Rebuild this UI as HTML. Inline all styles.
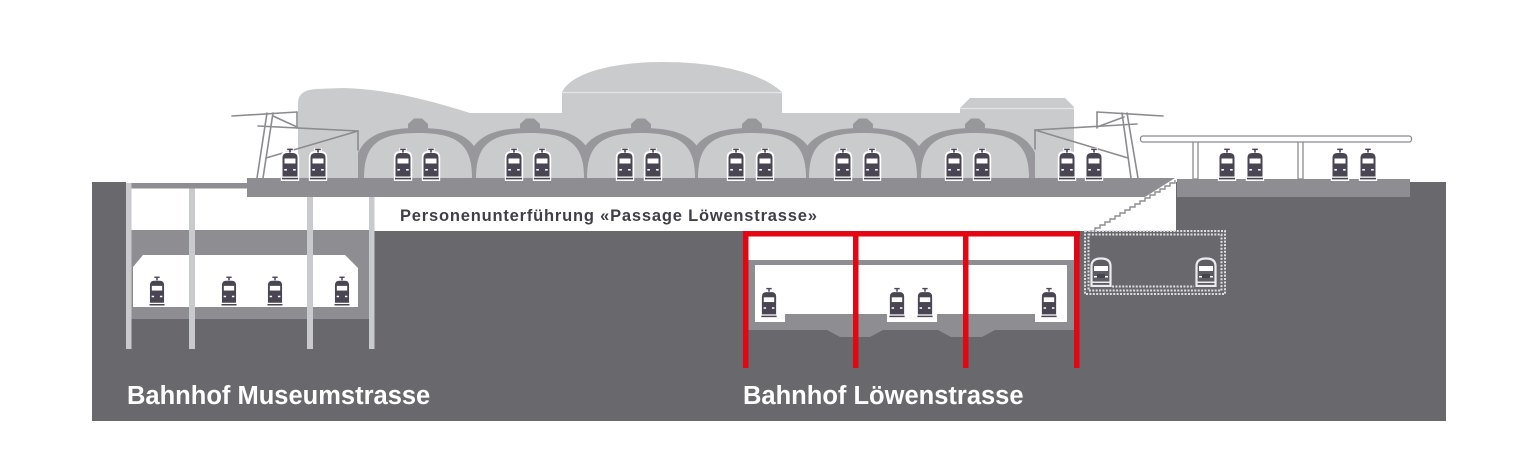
<!DOCTYPE html>
<html>
<head>
<meta charset="utf-8">
<style>
  html,body{margin:0;padding:0;background:#fff;}
  body{width:1536px;height:459px;overflow:hidden;}
  svg{display:block;}
  .lbl{font-family:"Liberation Sans",Arial,sans-serif;font-weight:bold;}
</style>
</head>
<body>
<svg width="1536" height="459" viewBox="0 0 1536 459" xmlns="http://www.w3.org/2000/svg">
  <defs>
    <symbol id="tr" viewBox="0 0 20 33">
      <path d="M0.8,33 V9.5 Q0.8,3.2 6.5,3.2 H13.5 Q19.2,3.2 19.2,9.5 V33 Z" fill="#fff"/>
      <rect x="6.3" y="0" width="7.4" height="2.8" fill="#fff"/>
      <rect x="7.2" y="0.6" width="5.6" height="1.5" fill="#4a4553"/>
      <rect x="9.2" y="2" width="1.6" height="2.6" fill="#4a4553"/>
      <path d="M2.5,28.5 V10 Q2.5,5 7,5 H13 Q17.5,5 17.5,10 V28.5 Z" fill="#4a4553"/>
      <rect x="4.5" y="10.5" width="11" height="5" fill="#fff"/>
      <rect x="4.3" y="21" width="2.6" height="1.6" fill="#fff"/>
      <rect x="13.1" y="21" width="2.6" height="1.6" fill="#fff"/>
      <rect x="2" y="29.8" width="16" height="1.6" fill="#4a4553"/>
    </symbol>
    <symbol id="tro" viewBox="0 0 22 30">
      <path d="M1.5,29 V9 Q1.5,1.5 11,1.5 Q20.5,1.5 20.5,9 V29 Z" fill="#5e5d63" stroke="#ececee" stroke-width="2.2"/>
      <rect x="4" y="9" width="14" height="5" fill="#fff"/>
      <rect x="4" y="19" width="3" height="1.5" fill="#fff"/>
      <rect x="15" y="19" width="3" height="1.5" fill="#fff"/>
      <rect x="7" y="17" width="8" height="4" fill="#45434b"/>
      <rect x="2.5" y="24.5" width="17" height="1.5" fill="#ececee"/>
    </symbol>
    <clipPath id="archclip"><rect x="358" y="100" width="677" height="78"/></clipPath>
  </defs>

  <!-- ===== BUILDING (light gray) ===== -->
  <path d="M298,180 L298,103 Q298,90 316,89 L343,88 C385,89 425,99 470,113 L562,113 L562,92
           C572,72 615,62 663,62 C715,62 760,72 782,92 L782,113 L960,113 L960,108 L970,98 L1065,98 L1074,107 L1074,180 Z"
        fill="#cacbcd"/>
  <line x1="562" y1="92.5" x2="782" y2="92.5" stroke="#e6e6e8" stroke-width="1.2"/>
  <line x1="960" y1="108.5" x2="1074" y2="108.5" stroke="#e6e6e8" stroke-width="1.2"/>

  <!-- ===== ARCHES ===== -->
  <g clip-path="url(#archclip)" fill="#98979c">
    <path d="M356,178 L356,158 C363,138 378,128 418,128 C458,128 473,138 480,158 L480,178 Z"/>
    <path d="M468,178 L468,158 C475,138 490,128 530,128 C570,128 585,138 592,158 L592,178 Z"/>
    <path d="M579,178 L579,158 C586,138 601,128 641,128 C681,128 696,138 703,158 L703,178 Z"/>
    <path d="M690,178 L690,158 C697,138 712,128 752,128 C792,128 807,138 814,158 L814,178 Z"/>
    <path d="M801,178 L801,158 C808,138 823,128 863,128 C903,128 918,138 925,158 L925,178 Z"/>
    <path d="M913,178 L913,158 C920,138 935,128 975,128 C1015,128 1030,138 1037,158 L1037,178 Z"/>
  </g>
  <g fill="#cacbcd">
    <path d="M364,178 C364,145 378,133 418,133 C458,133 472,145 472,178 Z"/>
    <path d="M476,178 C476,145 490,133 530,133 C570,133 584,145 584,178 Z"/>
    <path d="M587,178 C587,145 601,133 641,133 C681,133 695,145 695,178 Z"/>
    <path d="M698,178 C698,145 712,133 752,133 C792,133 806,145 806,178 Z"/>
    <path d="M809,178 C809,145 823,133 863,133 C903,133 917,145 917,178 Z"/>
    <path d="M921,178 C921,145 935,133 975,133 C1015,133 1029,145 1029,178 Z"/>
  </g>
  <g fill="#98979c">
    <polygon points="408,129 408,124 414,118.5 422,118.5 428,124 428,129"/>
    <polygon points="520,129 520,124 526,118.5 534,118.5 540,124 540,129"/>
    <polygon points="631,129 631,124 637,118.5 645,118.5 651,124 651,129"/>
    <polygon points="742,129 742,124 748,118.5 756,118.5 762,124 762,129"/>
    <polygon points="853,129 853,124 859,118.5 867,118.5 873,124 873,129"/>
    <polygon points="965,129 965,124 971,118.5 979,118.5 985,124 985,129"/>
  </g>

  <!-- ===== GROUND ===== -->
  <rect x="92" y="182" width="1354" height="239" fill="#69686d"/>
  <rect x="247" y="181" width="929" height="50" fill="#fff"/>
  <rect x="131" y="188" width="120" height="42" fill="#fff"/>
  <rect x="126" y="181" width="122" height="2" fill="#fff"/>
  <rect x="126" y="183" width="122" height="5.5" fill="#8e8d92"/>
  <polygon points="247,178 1175,178 1145,197 247,197" fill="#8e8d92"/>
  <polyline fill="none" stroke="#8e8d92" stroke-width="1.4"
    points="1175,180 1175,183 1170,183 1170,186 1165,186 1165,189 1160,189 1160,192 1155,192 1155,195 1150,195 1150,198 1145,198 1145,201 1140,201 1140,204 1135,204 1135,207 1130,207 1130,210 1125,210 1125,213 1120,213 1120,216 1115,216 1115,219 1110,219 1110,222 1105,222 1105,225 1100,225 1100,228 1095,228 1095,231 1090,231"/>
  <rect x="1177" y="179" width="233" height="18" fill="#8e8d92"/>
  <rect x="1410" y="182" width="36" height="15" fill="#69686d"/>

  <!-- ===== MUSEUMSTRASSE STATION ===== -->
  <rect x="131" y="230" width="238" height="89" fill="#8e8d92"/>
  <polygon points="143,255 345,255 358,268 358,307 133,307 133,267" fill="#fff"/>
  <g fill="#c9cacd">
    <rect x="126" y="183" width="5.5" height="166"/>
    <rect x="189" y="188.5" width="6" height="160.5"/>
    <rect x="307" y="197" width="6" height="152"/>
    <rect x="369" y="197" width="5.5" height="152"/>
  </g>
  <use href="#tr" x="147.5" y="276" width="19" height="31"/>
  <use href="#tr" x="219.5" y="276" width="19" height="31"/>
  <use href="#tr" x="265.5" y="276" width="19" height="31"/>
  <use href="#tr" x="332.5" y="276" width="19" height="31"/>

  <!-- ===== LÖWENSTRASSE STATION ===== -->
  <rect x="748" y="236" width="326" height="24" fill="#fff"/>
  <path d="M748,260 L1074,260 L1074,330 L995,330 L982,337 L951,337 L938,330 L883,330 L870,337 L840,337 L827,330 L748,330 Z" fill="#8e8d92"/>
  <path d="M755,265 L1067,265 L1067,322 L1035,322 L1035,314 L937,314 L937,322 L887,322 L887,314 L785,314 L785,322 L755,322 Z" fill="#fff"/>
  <use href="#tr" x="759.5" y="287" width="19" height="32"/>
  <use href="#tr" x="887.5" y="287" width="19" height="32"/>
  <use href="#tr" x="915.5" y="287" width="19" height="32"/>
  <use href="#tr" x="1039.5" y="287" width="19" height="32"/>
  <g fill="#e30613">
    <rect x="743" y="231" width="337" height="5.5"/>
    <rect x="743" y="231" width="5.5" height="137"/>
    <rect x="853" y="231" width="5.5" height="137"/>
    <rect x="963" y="231" width="5.5" height="137"/>
    <rect x="1074" y="231" width="5.5" height="137"/>
  </g>

  <!-- ===== DOTTED FUTURE TUNNEL ===== -->
  <g fill="none" stroke="#dedee1" stroke-width="2" stroke-dasharray="2 1.4">
    <rect x="1085" y="231" width="140" height="63"/>
    <rect x="1088.5" y="234.5" width="133" height="56"/>
    <line x1="1112" y1="286.5" x2="1194" y2="286.5"/>
  </g>
  <use href="#tro" x="1090" y="257" width="22" height="30"/>
  <use href="#tro" x="1195" y="257" width="22" height="30"/>

  <!-- ===== CATENARY ===== -->
  <g stroke="#8c8b90" stroke-width="1.6" fill="none" stroke-linecap="round">
    <line x1="232" y1="116" x2="297" y2="112"/>
    <line x1="257" y1="178" x2="267" y2="113"/>
    <line x1="263" y1="178" x2="273" y2="113"/>
    <line x1="258" y1="126" x2="358" y2="131"/>
    <line x1="297" y1="112" x2="297" y2="128"/>
    <line x1="273" y1="116" x2="297" y2="127"/>
    <line x1="266" y1="158" x2="358" y2="131"/>
    <line x1="358" y1="131" x2="358" y2="150"/>

    <line x1="1097" y1="112" x2="1163" y2="116"/>
    <line x1="1122" y1="113" x2="1131" y2="178"/>
    <line x1="1127" y1="113" x2="1138" y2="178"/>
    <line x1="1035" y1="130" x2="1137" y2="124"/>
    <line x1="1097" y1="112" x2="1097" y2="128"/>
    <line x1="1097" y1="127" x2="1124" y2="117"/>
    <line x1="1035" y1="130" x2="1128" y2="158"/>
    <line x1="1035" y1="130" x2="1035" y2="149"/>
  </g>

  <!-- ===== CANOPY ===== -->
  <g fill="#fff" stroke="#8c8b90" stroke-width="1.3">
    <rect x="1193" y="141" width="5" height="38"/>
    <rect x="1298" y="141" width="5" height="38"/>
    <rect x="1140.5" y="136" width="271" height="6" rx="2.5"/>
  </g>

  <!-- ===== TOP TRAINS ===== -->
  <g>
    <use href="#tr" x="280" y="148" width="20" height="33"/>
    <use href="#tr" x="308" y="148" width="20" height="33"/>
    <use href="#tr" x="393" y="148" width="20" height="33"/>
    <use href="#tr" x="421" y="148" width="20" height="33"/>
    <use href="#tr" x="504" y="148" width="20" height="33"/>
    <use href="#tr" x="532" y="148" width="20" height="33"/>
    <use href="#tr" x="615" y="148" width="20" height="33"/>
    <use href="#tr" x="643" y="148" width="20" height="33"/>
    <use href="#tr" x="726" y="148" width="20" height="33"/>
    <use href="#tr" x="755" y="148" width="20" height="33"/>
    <use href="#tr" x="833" y="148" width="20" height="33"/>
    <use href="#tr" x="862" y="148" width="20" height="33"/>
    <use href="#tr" x="944" y="148" width="20" height="33"/>
    <use href="#tr" x="972" y="148" width="20" height="33"/>
    <use href="#tr" x="1057" y="148" width="20" height="33"/>
    <use href="#tr" x="1084" y="148" width="20" height="33"/>
    <use href="#tr" x="1217" y="148" width="20" height="33"/>
    <use href="#tr" x="1245" y="148" width="20" height="33"/>
    <use href="#tr" x="1330" y="148" width="20" height="33"/>
    <use href="#tr" x="1358" y="148" width="20" height="33"/>
  </g>

  <!-- ===== LABELS ===== -->
  <text class="lbl" x="400" y="221" font-size="16.5" letter-spacing="0.8" fill="#403f47">Personenunterführung «Passage Löwenstrasse»</text>
  <text class="lbl" x="127" y="404" font-size="25.5" fill="#ffffff">Bahnhof Museumstrasse</text>
  <text class="lbl" x="743" y="404" font-size="25.5" fill="#ffffff">Bahnhof Löwenstrasse</text>
</svg>
</body>
</html>
